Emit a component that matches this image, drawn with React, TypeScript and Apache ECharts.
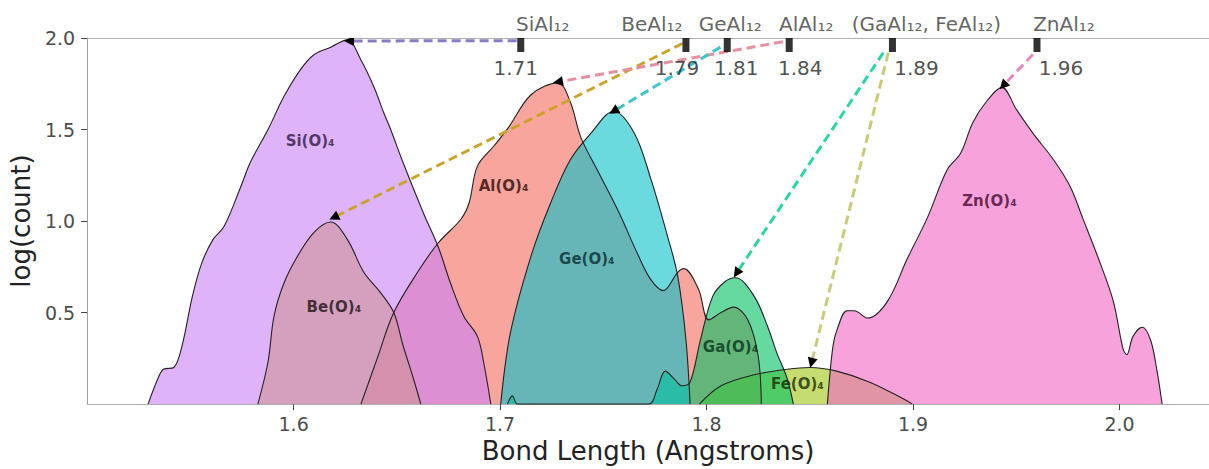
import React, { useEffect, useRef } from 'react';
import * as echarts from 'echarts';

// ---- density curves: [bond length, log(count)] ----
const AL_O4 = [[1.6326,0],[1.6405,0.25],[1.6485,0.50],[1.660,0.72],[1.670,0.88],[1.681,1.01],[1.685,1.10],[1.689,1.30],[1.697,1.41],[1.704,1.51],[1.715,1.69],[1.728,1.755],[1.734,1.65],[1.739,1.46],[1.747,1.28],[1.757,1.06],[1.767,0.81],[1.773,0.68],[1.779,0.62],[1.786,0.72],[1.789,0.74],[1.796,0.63],[1.801,0.46],[1.807,0.50],[1.813,0.53],[1.820,0.46],[1.825,0.26],[1.8265,0]];
const BE_O4 = [[1.5827,0],[1.5876,0.23],[1.5905,0.48],[1.5953,0.66],[1.602,0.81],[1.61,0.94],[1.618,0.995],[1.626,0.90],[1.634,0.72],[1.642,0.61],[1.6485,0.50],[1.653,0.32],[1.658,0.14],[1.6616,0]];
const FE_O4 = [[1.7965,0],[1.807,0.10],[1.823,0.16],[1.839,0.19],[1.850,0.20],[1.863,0.18],[1.879,0.12],[1.895,0.03],[1.8996,0]];
const GA_O4 = [[1.7035,0],[1.706,0.045],[1.7085,0],[1.772,0],[1.776,0.08],[1.780,0.18],[1.7845,0.135],[1.788,0.10],[1.792,0.12],[1.797,0.35],[1.803,0.59],[1.809,0.67],[1.814,0.69],[1.823,0.59],[1.8295,0.425],[1.834,0.28],[1.839,0.14],[1.842,0]];
const GE_O4 = [[1.7003,0],[1.705,0.39],[1.715,0.81],[1.7245,1.10],[1.734,1.335],[1.744,1.48],[1.755,1.60],[1.765,1.48],[1.773,1.23],[1.781,0.92],[1.786,0.70],[1.790,0.35],[1.792,0]];
const SI_O4 = [[1.5295,0],[1.5343,0.14],[1.537,0.19],[1.542,0.20],[1.546,0.32],[1.551,0.59],[1.5555,0.77],[1.561,0.90],[1.5663,0.97],[1.5745,1.19],[1.579,1.32],[1.5876,1.50],[1.5953,1.68],[1.6035,1.83],[1.610,1.91],[1.618,1.95],[1.626,1.99],[1.6326,1.88],[1.639,1.73],[1.6437,1.59],[1.647,1.50],[1.653,1.32],[1.663,1.04],[1.670,0.86],[1.676,0.66],[1.6824,0.48],[1.689,0.37],[1.692,0.23],[1.6955,0]];
const ZN_O4 = [[1.8585,0],[1.861,0.30],[1.863,0.40],[1.868,0.51],[1.8715,0.51],[1.878,0.47],[1.8875,0.56],[1.897,0.79],[1.907,1.02],[1.9165,1.28],[1.923,1.37],[1.929,1.54],[1.936,1.66],[1.943,1.73],[1.950,1.61],[1.958,1.48],[1.968,1.335],[1.976,1.19],[1.982,1.02],[1.9906,0.77],[1.997,0.56],[2.0017,0.30],[2.0035,0.27],[2.0065,0.37],[2.011,0.42],[2.015,0.35],[2.018,0.19],[2.0206,0]];

// ---- annotation markers (reference bond lengths) ----
const MARKER_X = [1.71, 1.79, 1.81, 1.84, 1.89, 1.96];
const MARKER_Y = 2.0;
const MARKER_TOP = ['SiAl₁₂', 'BeAl₁₂', 'GeAl₁₂', 'AlAl₁₂', '(GaAl₁₂, FeAl₁₂)', 'ZnAl₁₂'];
const MARKER_BOTTOM = ['1.71', '1.79', '1.81', '1.84', '1.89', '1.96'];

// ---- arrows from markers to peaks ----
const ARROW_FROM = [[1.708,1.985],[1.7883,1.97],[1.837,1.98],[1.8067,1.95],[1.8856,1.92],[1.888,1.92],[1.958,1.91]];
const ARROW_TO = [[1.6268,1.984],[1.6195,1.02],[1.728,1.76],[1.755,1.60],[1.8145,0.715],[1.8508,0.225],[1.9436,1.74]];

// ---- in-area labels ----
const AREA_LABEL_NAMES = ['Si(O)₄', 'Be(O)₄', 'Al(O)₄', 'Ge(O)₄', 'Ga(O)₄', 'Fe(O)₄', 'Zn(O)₄'];
const AREA_LABEL_POS = [[1.608,1.44],[1.6195,0.53],[1.7017,1.19],[1.742,0.79],[1.8116,0.31],[1.844,0.11],[1.937,1.11]];

// ---- axis ----
const X_MIN = 1.5, X_MAX = 2.0433;
const X_TICKS = [1.6, 1.7, 1.8, 1.9, 2.0];
const Y_MIN = 0, Y_MAX = 2.0;
const Y_TICKS = [0.5, 1.0, 1.5, 2.0];

// ---- styles ----
const FONT = 'DejaVu Sans';
const DENSITIES = [
  { data: AL_O4, color: '#f2695c' },
  { data: BE_O4, color: '#d0af05' },
  { data: FE_O4, color: '#9ec511' },
  { data: GA_O4, color: '#00c061' },
  { data: GE_O4, color: '#07c1c8' },
  { data: SI_O4, color: '#ca80f7' },
  { data: ZN_O4, color: '#f364c5' },
];
const ARROW_COLORS = ['#8a7cc4', '#c9a227', '#e78fa0', '#3fc4cc', '#2fd3a5', '#c8cc7a', '#e889bd'];
const AREA_LABEL_COLORS = ['#2b1640', '#1a1010', '#2a0808', '#082a30', '#08301a', '#1a2a05', '#40082a'];
const TOP_DX = [22, -34, 3, 17, 34, 27];
const BOTTOM_DX = [-5, -9, 9, 11, 24, 24];

export default function App() {
  const ref = useRef<HTMLDivElement>(null);
  useEffect(() => {
    if (!ref.current) return;
    const chart = echarts.init(ref.current, null, { renderer: 'svg' });
    const series: any[] = [];
    DENSITIES.forEach((d) => {
      series.push({
        type: 'line',
        data: d.data,
        showSymbol: false,
        smooth: 0.35,
        lineStyle: { color: '#222', width: 1.1 },
        areaStyle: { color: d.color, opacity: 0.6 },
        silent: true,
        z: 2,
      });
    });
    series.push({
      type: 'lines',
      coordinateSystem: 'cartesian2d',
      z: 5,
      symbol: ['none', 'none'],
      data: ARROW_FROM.map((f, i) => ({
        coords: [f, ARROW_TO[i]],
        lineStyle: { color: ARROW_COLORS[i] },
      })),
      lineStyle: { width: 3, type: [9, 5], opacity: 1 },
    });
    series.push({
      type: 'lines',
      coordinateSystem: 'cartesian2d',
      z: 6,
      symbol: ['none', 'triangle'],
      symbolSize: 10,
      data: ARROW_FROM.map((f, i) => ({ coords: [f, ARROW_TO[i]] })),
      lineStyle: { width: 0, color: '#000', opacity: 1 },
    });
    series.push({
      type: 'scatter',
      z: 7,
      clip: false,
      symbol: 'rect',
      symbolSize: [7, 14],
      symbolOffset: [0, 7],
      itemStyle: { color: '#000' },
      data: MARKER_X.map((x) => [x, MARKER_Y]),
    });
    series.push({
      type: 'scatter',
      z: 7,
      clip: false,
      symbolSize: 1,
      itemStyle: { color: 'rgba(0,0,0,0)' },
      data: MARKER_X.map((x, i) => ({
        name: MARKER_TOP[i],
        value: [x, MARKER_Y],
        label: { offset: [TOP_DX[i], -14] },
      })),
      label: { show: true, position: 'inside', formatter: '{b}', fontFamily: FONT, fontSize: 20, color: '#3a3a3a' },
    });
    series.push({
      type: 'scatter',
      z: 7,
      clip: false,
      symbolSize: 1,
      itemStyle: { color: 'rgba(0,0,0,0)' },
      data: MARKER_X.map((x, i) => ({
        name: MARKER_BOTTOM[i],
        value: [x, MARKER_Y],
        label: { offset: [BOTTOM_DX[i], 30] },
      })),
      label: { show: true, position: 'inside', formatter: '{b}', fontFamily: FONT, fontSize: 20, color: '#222' },
    });
    series.push({
      type: 'scatter',
      z: 4,
      clip: false,
      symbolSize: 1,
      itemStyle: { color: 'rgba(0,0,0,0)' },
      data: AREA_LABEL_POS.map((p, i) => ({
        name: AREA_LABEL_NAMES[i],
        value: p,
        label: { color: AREA_LABEL_COLORS[i] },
      })),
      label: { show: true, position: 'inside', formatter: '{b}', fontFamily: FONT, fontSize: 15, fontWeight: 'bold' },
    });

    chart.setOption({
      animation: false,
      backgroundColor: '#fff',
      grid: { left: 86, right: 0, top: 38, bottom: 64 },
      xAxis: [
        {
          type: 'value',
          min: X_MIN,
          max: X_MAX,
          position: 'bottom',
          axisLine: { show: true, lineStyle: { color: '#b0b0b0', width: 1 } },
          axisTick: { show: true, length: 6, customValues: X_TICKS, lineStyle: { color: '#444' } },
          axisLabel: {
            fontFamily: FONT, fontSize: 19, color: '#4d4d4d', margin: 10,
            customValues: X_TICKS,
            formatter: (v: number) => v.toFixed(1),
          },
          splitLine: { show: false },
          name: 'Bond Length (Angstroms)',
          nameLocation: 'middle',
          nameGap: 27,
          nameTextStyle: { fontFamily: FONT, fontSize: 26, color: '#222' },
        },
        {
          type: 'value',
          min: X_MIN,
          max: X_MAX,
          position: 'top',
          axisLine: { show: true, lineStyle: { color: '#b0b0b0', width: 1 } },
          axisTick: { show: false },
          axisLabel: { show: false },
          splitLine: { show: false },
        },
      ],
      yAxis: {
        type: 'value',
        min: Y_MIN,
        max: Y_MAX,
        axisLine: { show: true, lineStyle: { color: '#a0a0a0', width: 1 } },
        axisTick: { show: true, length: 6, customValues: Y_TICKS, lineStyle: { color: '#444' } },
        axisLabel: {
          fontFamily: FONT, fontSize: 19, color: '#4d4d4d', margin: 12,
          customValues: Y_TICKS,
          formatter: (v: number) => v.toFixed(1),
        },
        splitLine: { show: false },
        name: 'log(count)',
        nameLocation: 'middle',
        nameGap: 44,
        nameTextStyle: { fontFamily: FONT, fontSize: 26, color: '#222' },
      },
      series,
    });
    return () => chart.dispose();
  }, []);
  return <div ref={ref} style={{ width: 1209, height: 469, position: 'absolute', left: 0, top: 0 }} />;
}
